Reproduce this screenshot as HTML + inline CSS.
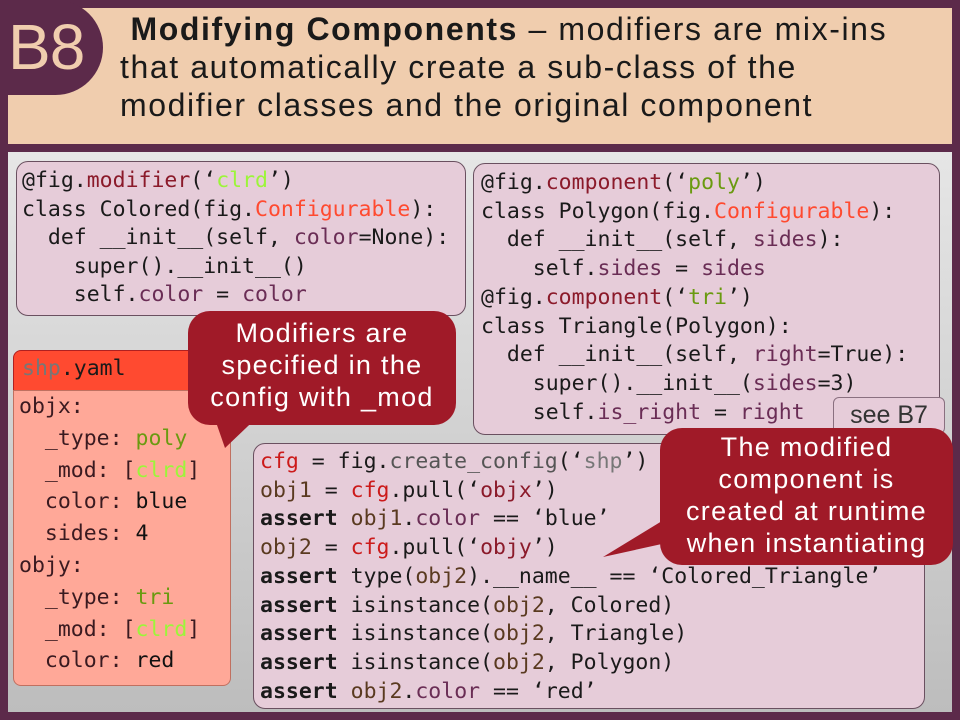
<!DOCTYPE html>
<html><head><meta charset="utf-8"><style>
*{margin:0;padding:0;box-sizing:border-box}
body{width:960px;height:720px;background:#5c2a4a;position:relative;overflow:hidden;font-family:"Liberation Sans",sans-serif}
.abs{position:absolute}
#hdr{left:8px;top:8px;width:944px;height:136px;background:#f0cdae}
#blob{left:-20px;top:0;width:123px;height:95px;background:#5c2a4a;border-radius:0 48px 48px 0}
#b8{left:8px;top:10px;font-size:64px;color:#f0cdae;letter-spacing:-1px}
#title{left:120px;top:10px;font-size:32px;line-height:38px;color:#1a1a1a;white-space:pre;letter-spacing:1.6px}
#main{left:8px;top:152px;width:944px;height:560px;background:linear-gradient(#e6e6e6,#bdbdbd)}
pre{font-family:"DejaVu Sans Mono","Liberation Mono",monospace;font-size:21.5px;color:#1a1a1a}
.box{background:#e6ccd9;border:1px solid #6a5060;border-radius:12px}
.k{color:#8b1a2a}.g{color:#9cf53a}.r{color:#ff4a30}.p{color:#6a2d55}.o{color:#6a9a10}.gr{color:#777}.b{color:#5a3a20}.cr{color:#cc1a1a}.bold{font-weight:bold}
.call{background:#a01a28;color:#fff;border-radius:22px;font-size:27px;text-align:center;line-height:32px;letter-spacing:1.3px;white-space:nowrap}
</style></head><body>
<div class="abs" id="hdr"></div>
<div class="abs" id="blob"></div>
<div class="abs" id="b8">B8</div>
<div class="abs" id="title"> <b>Modifying Components</b> – modifiers are mix-ins
that automatically create a sub-class of the
modifier classes and the original component</div>
<div class="abs" id="main"></div>

<div class="abs box" style="left:16px;top:161px;width:450px;height:155px"></div>
<pre class="abs" style="left:22px;top:167px;line-height:28.5px">@fig.<span class="k">modifier</span>(‘<span class="g">clrd</span>’)
class Colored(fig.<span class="r">Configurable</span>):
  def __init__(self, <span class="p">color</span>=None):
    super().__init__()
    self.<span class="p">color</span> = <span class="p">color</span></pre>

<div class="abs box" style="left:473px;top:163px;width:467px;height:272px"></div>
<pre class="abs" style="left:481px;top:169px;line-height:28.7px">@fig.<span class="k">component</span>(‘<span class="o">poly</span>’)
class Polygon(fig.<span class="r">Configurable</span>):
  def __init__(self, <span class="p">sides</span>):
    self.<span class="p">sides</span> = <span class="p">sides</span>
@fig.<span class="k">component</span>(‘<span class="o">tri</span>’)
class Triangle(Polygon):
  def __init__(self, <span class="p">right</span>=True):
    super().__init__(<span class="p">sides</span>=3)
    self.<span class="p">is_right</span> = <span class="p">right</span></pre>
<div class="abs" style="left:833px;top:397px;width:112px;height:37px;background:#e6ccd9;border:1px solid #8a7080;border-radius:6px;font-size:25px;color:#333;text-align:center;line-height:35px">see B7</div>

<div class="abs" style="left:13px;top:350px;width:222px;height:41px;background:#ff4a30;border:1px solid #b02020;border-radius:8px 8px 0 0"></div>
<div class="abs" style="left:13px;top:390px;width:218px;height:296px;background:#ffa898;border:1px solid #c07060;border-radius:0 0 8px 8px"></div>
<pre class="abs" style="left:22px;top:354px;line-height:30px"><span class="gr">shp</span>.yaml</pre>
<pre class="abs" style="left:19px;top:391px;line-height:31.8px;color:#3a1a20">objx:
  _type: <span class="o">poly</span>
  _mod: [<span class="g">clrd</span>]
  color: <span style="color:#111">blue</span>
  sides: <span style="color:#111">4</span>
objy:
  _type: <span class="o">tri</span>
  _mod: [<span class="g">clrd</span>]
  color: <span style="color:#111">red</span></pre>

<div class="abs box" style="left:253px;top:443px;width:672px;height:266px"></div>
<pre class="abs" style="left:260px;top:448px;line-height:28.7px"><span class="cr">cfg</span> = fig.<span style="color:#555">create_config</span>(‘<span class="gr">shp</span>’)
<span class="b">obj1</span> = <span class="cr">cfg</span>.pull(‘<span class="k">objx</span>’)
<span class="bold">assert</span> <span class="b">obj1</span>.<span class="p">color</span> == ‘blue’
<span class="b">obj2</span> = <span class="cr">cfg</span>.pull(‘<span class="k">objy</span>’)
<span class="bold">assert</span> type(<span class="b">obj2</span>).__name__ == ‘Colored_Triangle’
<span class="bold">assert</span> isinstance(<span class="b">obj2</span>, Colored)
<span class="bold">assert</span> isinstance(<span class="b">obj2</span>, Triangle)
<span class="bold">assert</span> isinstance(<span class="b">obj2</span>, Polygon)
<span class="bold">assert</span> <span class="b">obj2</span>.<span class="p">color</span> == ‘red’</pre>

<svg class="abs" style="left:0;top:0" width="960" height="720">
<polygon points="210,405 270,405 225,448" fill="#a01a28"/>
<polygon points="680,510 680,540 603,557" fill="#a01a28"/>
</svg>
<div class="abs call" style="left:188px;top:311px;width:268px;height:114px;padding-top:6px">Modifiers are<br>specified in the<br>config with _mod</div>
<div class="abs call" style="left:660px;top:428px;width:293px;height:137px;padding-top:3px">The modified<br>component is<br>created at runtime<br>when instantiating</div>
</body></html>
